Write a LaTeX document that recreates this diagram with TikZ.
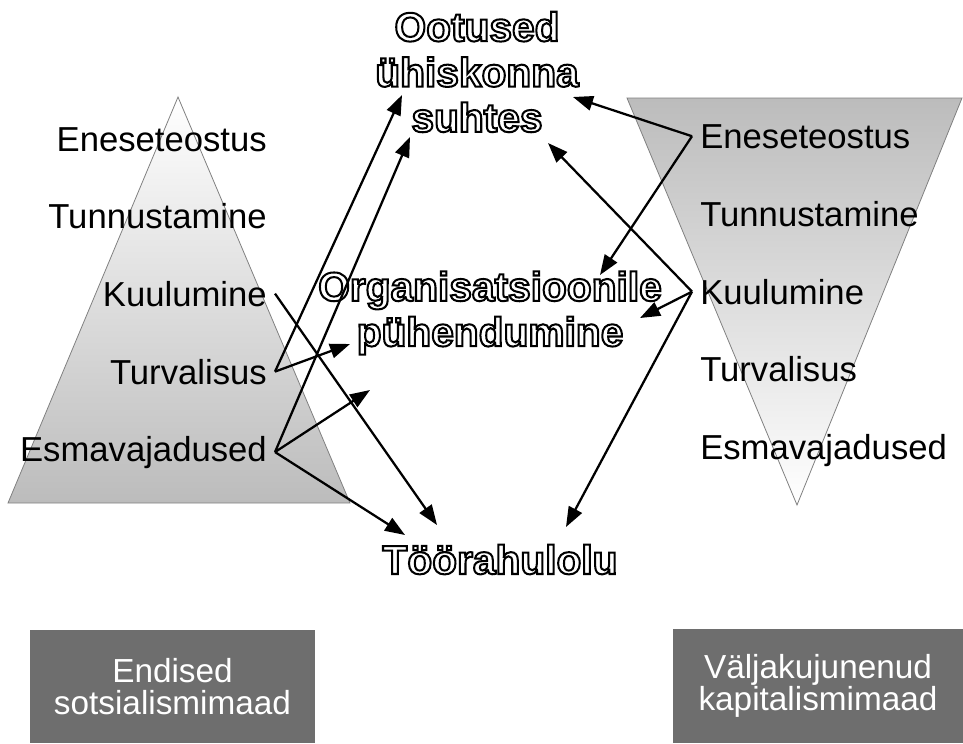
\documentclass[tikz,border=0pt]{standalone}
\usepackage{fontspec}
\setmainfont{Liberation Sans}
\newfontfamily\hollowfont[FakeBold=5]{Liberation Sans Bold}
\usetikzlibrary{arrows.meta}
\definecolor{boxgray}{RGB}{110,110,110}
\definecolor{pyrgray}{RGB}{188,188,188}
\newcommand{\hollow}[1]{{\color{white}\special{pdf:literal direct 0 G}#1}}

\begin{document}
\begin{tikzpicture}[x=0.75pt,y=-0.75pt,
	need/.style={font=\fontsize{26}{30}\selectfont, inner xsep=6pt, inner ysep=0pt},
	heading/.style={font=\fontsize{30.5}{34}\hollowfont, align=center, inner sep=0pt},
	country/.style={fill=boxgray, text=white, align=center, inner sep=0pt, font=\fontsize{25}{24}\selectfont},
	link/.style={line width=1.7pt, -{Triangle[length=15pt,width=11pt]}}]
		\useasboundingbox (0,0) rectangle (963,743);

		% left pyramid
		\shadedraw[top color=white, bottom color=pyrgray, draw=gray, line width=0.6pt] (178,97) -- (350,503) -- (8,503) -- cycle;
		% right pyramid
		\shadedraw[top color=pyrgray, bottom color=white, draw=gray, line width=0.6pt] (627,98) -- (962,98) -- (797,505) -- cycle;

		% left levels
		\node[need, anchor=base east] (lself) at (275,151) {Eneseteostus};
		\node[need, anchor=base east] (lrec) at (275,228) {Tunnustamine};
		\node[need, anchor=base east] (lkuul) at (275,306) {Kuulumine};
		\node[need, anchor=base east] (lturv) at (275,384) {Turvalisus};
		\node[need, anchor=base east] (lesma) at (275,461) {Esmavajadused};

		% right levels
		\node[need, anchor=base west] (rself) at (692,148) {Eneseteostus};
		\node[need, anchor=base west] (rrec) at (692,226) {Tunnustamine};
		\node[need, anchor=base west] (rkuul) at (692,304) {Kuulumine};
		\node[need, anchor=base west] (rturv) at (692,381) {Turvalisus};
		\node[need, anchor=base west] (resma) at (692,459) {Esmavajadused};

		% outcomes
		\node[heading] (ootus) at (477,72) {\hollow{Ootused}\\\hollow{ühiskonna}\\\hollow{suhtes}};
		\node[heading] (pyhend) at (490,313) {\hollow{Organisatsioonile}\\\hollow{pühendumine}};
		\node[heading, anchor=base] (toorahu) at (500,574) {\hollow{Töörahulolu}};

		% arrow ends
		\coordinate (oot-a) at (402,95);
		\coordinate (oot-b) at (410,137);
		\coordinate (oot-c) at (573,97);
		\coordinate (oot-d) at (548,143);
		\coordinate (org-a) at (350,344);
		\coordinate (org-b) at (370,390);
		\coordinate (org-c) at (600,275);
		\coordinate (org-d) at (640,318);
		\coordinate (toor-a) at (437,525);
		\coordinate (toor-b) at (405,535);
		\coordinate (toor-c) at (566,527);

		% left arrows
		\draw[link] (lkuul.east) -- (toor-a);
		\draw[link] (lturv.east) -- (oot-a);
		\draw[link] (lturv.east) -- (org-a);
		\draw[link] (lesma.east) -- (oot-b);
		\draw[link] (lesma.east) -- (org-b);
		\draw[link] (lesma.east) -- (toor-b);

		% right arrows
		\draw[link] (rself.west) -- (oot-c);
		\draw[link] (rself.west) -- (org-c);
		\draw[link] (rkuul.west) -- (oot-d);
		\draw[link] (rkuul.west) -- (org-d);
		\draw[link] (rkuul.west) -- (toor-c);

		% country groups
		\node[country, minimum width=213.75pt, minimum height=84.75pt] (endised) at (172.5,686.5) {Endised\\sotsialismimaad};
		\node[country, minimum width=217.5pt, minimum height=85.5pt] (kapital) at (818,686) {Väljakujunenud\\kapitalismimaad};
	\end{tikzpicture}
\end{document}
